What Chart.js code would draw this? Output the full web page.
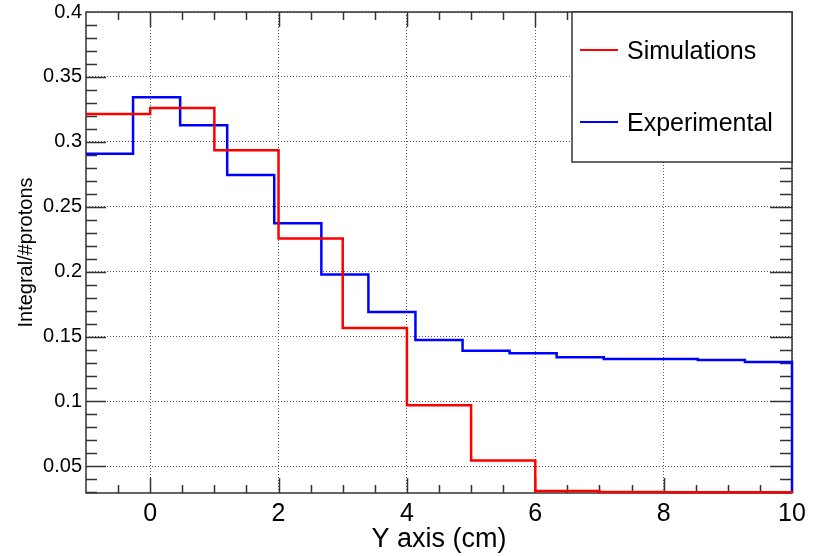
<!DOCTYPE html>
<html>
<head>
<meta charset="utf-8">
<script src="https://cdn.jsdelivr.net/npm/chart.js@4.4.0/dist/chart.umd.min.js"></script>
<style>
  html, body { margin: 0; padding: 0; background: #fff; }
  canvas { display: block; }
</style>
</head>
<body>
<canvas id="histChart" width="816" height="556"></canvas>
<script>
// bin edges and contents
var simEdges = [-1, 0, 1, 2, 3, 4, 5, 6, 7, 8, 9, 10];
var simValues = [0.3215, 0.326, 0.2935, 0.2255, 0.1565, 0.097, 0.0545, 0.031, 0.0302, 0.0301, 0.0301];

var expEdges = [-1, -0.267, 0.467, 1.2, 1.933, 2.667, 3.4, 4.133, 4.867, 5.6, 6.333, 7.067, 7.8, 8.533, 9.267, 10];
var expValues = [0.2908, 0.3344, 0.3128, 0.2744, 0.2372, 0.1979, 0.169, 0.1474, 0.139, 0.1372, 0.1341, 0.1328, 0.1328, 0.132, 0.1305];

var xTicks = [0, 2, 4, 6, 8, 10];
var yTicks = [0.05, 0.1, 0.15, 0.2, 0.25, 0.3, 0.35, 0.4];

var X_MIN = -1, X_MAX = 10;
var Y_MIN = 0.0295, Y_MAX = 0.4;
var FONT = "'Liberation Sans', Arial, Helvetica, sans-serif";
var AXIS_COLOR = '#333';

// histogram outline: one point per bin edge, then drop to the baseline
function histPoints(edges, values) {
  var pts = [];
  for (var i = 0; i < values.length; i++) {
    pts.push({ x: edges[i], y: values[i] });
  }
  pts.push({ x: edges[edges.length - 1], y: values[values.length - 1] });
  pts.push({ x: edges[edges.length - 1], y: Y_MIN });
  return pts;
}

// ROOT-like frame with inward ticks on all four sides
var framePlugin = {
  id: 'frame',
  beforeDatasetsDraw: function (chart) {
    var ctx = chart.ctx;
    var a = chart.chartArea;
    var xs = chart.scales.x, ys = chart.scales.y;
    ctx.save();
    ctx.strokeStyle = AXIS_COLOR;
    ctx.lineWidth = 1.5;
    ctx.strokeRect(a.left, a.top, a.right - a.left, a.bottom - a.top);
    ctx.beginPath();
    var v, px, major, len;
    for (var i = -2; i <= 20; i++) {
      v = i * 0.5;
      if (v <= X_MIN || v >= X_MAX) continue;
      px = Math.round(xs.getPixelForValue(v)) + 0.5;
      major = (i % 4 === 0);
      len = major ? 15 : 8;
      ctx.moveTo(px, a.bottom); ctx.lineTo(px, a.bottom - len);
      ctx.moveTo(px, a.top); ctx.lineTo(px, a.top + len);
    }
    for (var j = 3; j <= 40; j++) {
      v = j / 100;
      if (v <= Y_MIN || v >= Y_MAX) continue;
      px = Math.round(ys.getPixelForValue(v)) + 0.5;
      major = (j % 5 === 0);
      ctx.moveTo(a.left, px); ctx.lineTo(a.left + (major ? 20 : 11), px);
      ctx.moveTo(a.right, px); ctx.lineTo(a.right - (major ? 22 : 12), px);
    }
    ctx.stroke();
    ctx.restore();
  }
};

// boxed legend in the top right corner of the frame
var legendPlugin = {
  id: 'boxLegend',
  afterDatasetsDraw: function (chart) {
    var ctx = chart.ctx;
    var a = chart.chartArea;
    var x0 = a.right - 220, y0 = a.top, w = 220, h = 150;
    ctx.save();
    ctx.fillStyle = '#fff';
    ctx.fillRect(x0, y0, w, h);
    ctx.strokeStyle = AXIS_COLOR;
    ctx.lineWidth = 1.5;
    ctx.strokeRect(x0, y0, w, h);
    ctx.font = '25px ' + FONT;
    ctx.textBaseline = 'middle';
    ctx.fillStyle = '#000';
    var rows = [38, 110];
    chart.data.datasets.forEach(function (ds, i) {
      var y = y0 + rows[i];
      ctx.strokeStyle = ds.borderColor;
      ctx.lineWidth = 2;
      ctx.beginPath();
      ctx.moveTo(x0 + 8, y);
      ctx.lineTo(x0 + 46, y);
      ctx.stroke();
      ctx.fillText(ds.label, x0 + 55, y + 2);
    });
    ctx.restore();
  }
};

var histCtx = document.getElementById('histChart');
var histChart = new Chart(histCtx, {
  type: 'line',
  data: {
    datasets: [{
      label: 'Simulations',
      data: histPoints(simEdges, simValues),
      borderColor: '#ff0000',
      borderWidth: 2.5,
      pointRadius: 0,
      stepped: 'before',
      fill: false,
      clip: 3
    }, {
      label: 'Experimental',
      data: histPoints(expEdges, expValues),
      borderColor: '#0000ff',
      borderWidth: 2.5,
      pointRadius: 0,
      stepped: 'before',
      fill: false,
      clip: 3
    }]
  },
  options: {
    responsive: false,
    animation: false,
    layout: { padding: { top: 12, right: 24, left: 0, bottom: 0 } },
    plugins: {
      legend: { display: false },
      tooltip: { enabled: false }
    },
    scales: {
      x: {
        type: 'linear',
        min: X_MIN,
        max: X_MAX,
        afterBuildTicks: function (scale) {
          scale.ticks = xTicks.map(function (v) { return { value: v }; });
        },
        afterFit: function (scale) {
          scale.height = 63;
          scale.paddingLeft = 0;
          scale.paddingRight = 0;
        },
        grid: {
          color: '#555',
          lineWidth: 1,
          drawTicks: false
        },
        border: { display: false, dash: [1, 2] },
        ticks: {
          padding: 6,
          color: '#000',
          maxRotation: 0,
          font: { family: FONT, size: 25 },
          callback: function (v) { return String(v); }
        },
        title: {
          display: true,
          text: 'Y axis (cm)',
          color: '#000',
          font: { family: FONT, size: 27 },
          padding: { top: 0, bottom: 0 }
        }
      },
      y: {
        min: Y_MIN,
        max: Y_MAX,
        afterBuildTicks: function (scale) {
          scale.ticks = yTicks.map(function (v) { return { value: v }; });
        },
        afterFit: function (scale) {
          scale.width = 86;
          scale.paddingTop = 0;
          scale.paddingBottom = 0;
        },
        grid: {
          color: '#555',
          lineWidth: 1,
          drawTicks: false
        },
        border: { display: false, dash: [1, 2] },
        ticks: {
          padding: 4,
          color: '#000',
          font: { family: FONT, size: 20 },
          callback: function (v) { return String(v); }
        },
        title: {
          display: true,
          text: 'Integral/#protons',
          color: '#000',
          font: { family: FONT, size: 20 },
          padding: { top: 14, bottom: 0 }
        }
      }
    }
  },
  plugins: [framePlugin, legendPlugin]
});
</script>
</body>
</html>
